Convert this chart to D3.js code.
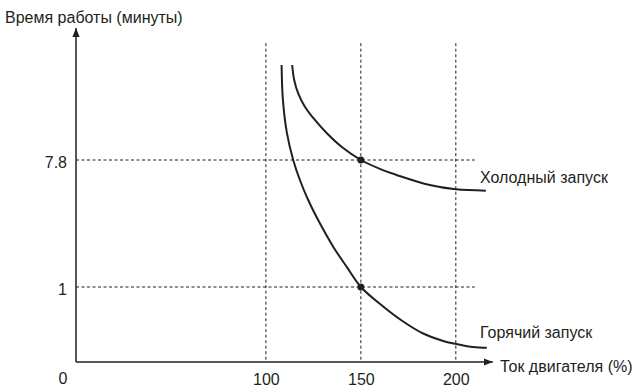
<!DOCTYPE html>
<html lang="ru">
<head>
    <meta charset="UTF-8">
    <title>Время работы / Ток двигателя</title>
    <script src="https://cdnjs.cloudflare.com/ajax/libs/d3/7.8.5/d3.min.js"></script>
    <style>
        body { margin: 0; background: #fff; }
        svg text { font-family: "Liberation Sans", Arial, sans-serif; fill: #231f20; }
        .guide { stroke: #231f20; stroke-width: 1; stroke-dasharray: 3,2.5; }
        .curve { fill: none; stroke: #231f20; stroke-width: 2; }
    </style>
</head>
<body>
<div id="chart"></div>
<script>
    // current (%) / run time (minutes)
    const xTicks = [100, 150, 200];
    const yTicks = [1, 7.8];
    const coldX = [113.84, 114.89, 117.0, 120.53, 125.79, 132.1, 140.0, 150,
                   161.6, 168.8, 186.3, 200, 215.8];
    const coldY = [16.58, 15.19, 13.96, 12.73, 11.50, 10.27, 9.0, 7.8,
                   7.26, 7.0, 6.46, 6.23, 6.16];
    const hotX = [108.26, 108.95, 111.05, 114.37, 117.89, 122.26, 128.42, 135.42, 142.47, 150,
                  161.74, 172.26, 182.79, 193.32, 200.37, 209.1, 216.3];
    const hotY = [16.58, 13.35, 10.3, 7.8, 6.73, 5.66, 4.41, 3.16, 2.09, 1,
                  0.74, 0.54, 0.38, 0.28, 0.24, 0.20, 0.19];
    const markX = [150, 150];
    const markY = [7.8, 1];

    const width = 633, height = 387;
    const fs = 16;
    const svg = d3.select("#chart").append("svg")
        .attr("width", width).attr("height", height);

    const x = d3.scaleLinear().domain([0, 218]).range([76, 490]);
    // schematic y axis: piecewise linear
    const y = d3.scaleLinear().domain([0, 1, 7.8, 20]).range([362, 287, 160, 28]);

    // dashed guides
    xTicks.forEach(v => {
        svg.append("line").attr("class", "guide")
            .attr("x1", x(v)).attr("x2", x(v))
            .attr("y1", y(18.6)).attr("y2", y(0));
    });
    yTicks.forEach(v => {
        svg.append("line").attr("class", "guide")
            .attr("x1", x(0)).attr("x2", x(210))
            .attr("y1", y(v)).attr("y2", y(v));
    });

    // axes with arrows
    svg.append("defs").append("marker")
        .attr("id", "arrow").attr("viewBox", "0 0 10 10")
        .attr("refX", 10).attr("refY", 5)
        .attr("markerWidth", 9).attr("markerHeight", 9)
        .attr("markerUnits", "userSpaceOnUse")
        .attr("orient", "auto")
        .append("path").attr("d", "M0,1L10,5L0,9Z").attr("fill", "#231f20");

    svg.append("line")
        .attr("x1", x(0)).attr("x2", x(219.5))
        .attr("y1", y(0)).attr("y2", y(0))
        .attr("stroke", "#231f20").attr("stroke-width", 1.5)
        .attr("marker-end", "url(#arrow)");
    svg.append("line")
        .attr("x1", x(0)).attr("x2", x(0))
        .attr("y1", y(0)).attr("y2", y(20))
        .attr("stroke", "#231f20").attr("stroke-width", 1.5)
        .attr("marker-end", "url(#arrow)");

    const xAxis = svg.append("g")
        .attr("transform", `translate(0,${y(0)})`)
        .call(d3.axisBottom(x).tickValues(xTicks).tickSize(0).tickPadding(12));
    const yAxis = svg.append("g")
        .attr("transform", `translate(${x(0)},2)`)
        .call(d3.axisLeft(y).tickValues(yTicks).tickSize(0).tickPadding(9).tickFormat(d => d));
    [xAxis, yAxis].forEach(g => {
        g.select(".domain").remove();
        g.selectAll("text").attr("font-size", fs).attr("fill", "#231f20")
            .attr("font-family", "Liberation Sans, Arial, sans-serif");
    });

    svg.append("text").attr("x", x(0) - 13).attr("y", y(0) + 22)
        .attr("text-anchor", "middle").attr("font-size", fs).text("0");

    // curves
    const line = d3.line()
        .x(d => x(d[0])).y(d => y(d[1]))
        .curve(d3.curveCatmullRom.alpha(0.5));
    svg.append("path").attr("class", "curve")
        .attr("d", line(coldX.map((v, i) => [v, coldY[i]])));
    svg.append("path").attr("class", "curve")
        .attr("d", line(hotX.map((v, i) => [v, hotY[i]])));

    svg.selectAll(".mark").data(markX.map((v, i) => [v, markY[i]]))
        .enter().append("circle").attr("class", "mark")
        .attr("cx", d => x(d[0])).attr("cy", d => y(d[1]))
        .attr("r", 3.5).attr("fill", "#231f20");

    // labels
    svg.append("text").attr("x", 5).attr("y", 23).attr("font-size", fs)
        .text("Время работы (минуты)");
    svg.append("text").attr("x", 500).attr("y", y(0) + 10).attr("font-size", fs)
        .text("Ток двигателя (%)");
    svg.append("text").attr("x", 480).attr("y", 183).attr("font-size", fs)
        .text("Холодный запуск");
    svg.append("text").attr("x", 480).attr("y", 338).attr("font-size", fs)
        .text("Горячий запуск");
</script>
</body>
</html>
